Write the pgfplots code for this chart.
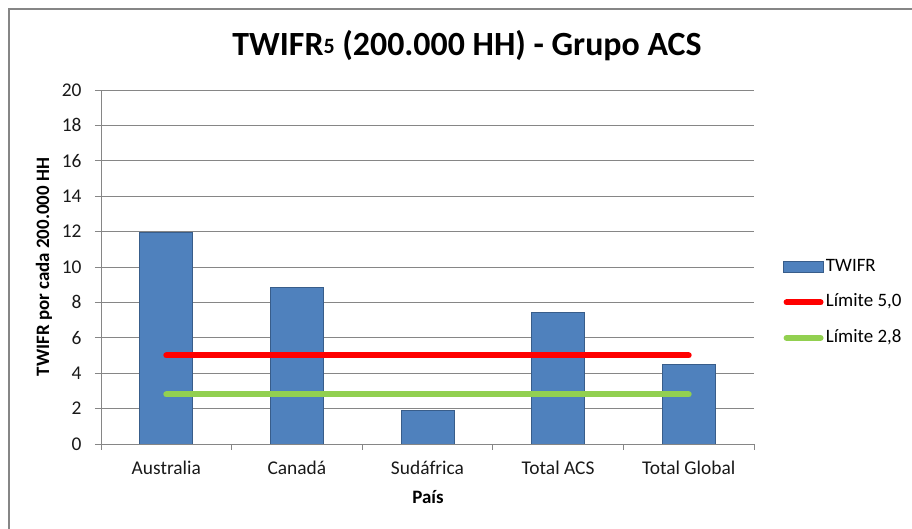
\documentclass[border=0pt]{standalone}
\usepackage{pgfplots}
\pgfplotsset{compat=1.18}
\usepackage{fontspec}
\setmainfont{Carlito}
\definecolor{barblue}{HTML}{4F81BD}
\definecolor{baredge}{HTML}{385D8A}
\definecolor{gridgray}{HTML}{868686}
\definecolor{limgreen}{HTML}{92D050}
\definecolor{limred}{HTML}{FF0000}
\pgfplotsset{
  barlegend/.style={legend image code/.code={\draw[##1] (0bp,-5.5bp) rectangle (40bp,5.5bp);}},
  linelegend/.style={legend image code/.code={\draw[##1] (3bp,0bp) -- (37bp,0bp);}},
}
\begin{document}
\begin{tikzpicture}
\begin{axis}[
  scale only axis, width=653bp, height=354bp,
  xmin=-0.5, xmax=4.5, ymin=0, ymax=20,
  ytick={0,2,...,20},
  xtick={-0.5,0.5,...,4.5},
  xticklabels={},
  extra x ticks={0,1,2,3,4},
  extra x tick labels={Australia, Canadá, Sudáfrica, Total ACS, Total Global},
  extra x tick style={major tick length=0pt, grid=none,
    tick label style={yshift=-13bp}},
  axis x line*=bottom, axis y line*=left,
  x axis line style={-}, y axis line style={-},
  axis line style={gridgray, line width=0.9bp},
  tick align=outside, major tick length=6bp,
  tick style={gridgray, line width=0.9bp},
  ymajorgrids=true,
  grid style={gridgray, line width=0.9bp},
  /pgf/number format/assume math mode=true,
  ticklabel style={font=\fontsize{19.5}{22}\selectfont, text=black!90},
  yticklabel style={xshift=-10bp},
  legend style={at={(1.0444,0.400)}, anchor=west, draw=none, fill=none,
    inner sep=0pt, row sep=18.5bp, font=\fontsize{19}{22}\selectfont,
    nodes={inner xsep=2bp, inner ysep=0bp, text height=13bp, text depth=4bp}},
  legend cell align=left,
]
\addplot[ybar, bar width=53bp, fill=barblue, draw=baredge, line width=0.75bp, barlegend]
  coordinates {(0,11.95) (1,8.85) (2,1.9) (3,7.45) (4,4.5)};
\addlegendentry{TWIFR}
\addplot[limred, line width=6bp, line cap=round, linelegend]
  coordinates {(0,5.0) (4,5.0)};
\addlegendentry{Límite 5,0}
\addplot[limgreen, line width=6bp, line cap=round, linelegend]
  coordinates {(0,2.8) (4,2.8)};
\addlegendentry{Límite 2,8}
\coordinate (O) at (rel axis cs:0,0);
\end{axis}
\begin{scope}[shift={(O)}, x=1bp, y=1bp]
\draw[gridgray, line width=1.2bp] (9-101,0-85) -- (9-101,520-85) -- (912-101,520-85);
\node[anchor=base, font=\bfseries\fontsize{34}{40}\selectfont] at (467-101,473-85)
  {TWIFR\raisebox{2.5bp}{\fontsize{22}{22}\selectfont 5} (200.000 HH) - Grupo ACS};
\node[rotate=90, font=\bfseries\fontsize{19}{22}\selectfont] at (44-101,262-85) {TWIFR por cada 200.000 HH};
\node[font=\bfseries\fontsize{19}{22}\selectfont] at (428-101,32-85) {País};
\pgfresetboundingbox
\useasboundingbox (-101,-85) rectangle (811,444);
\end{scope}
\end{tikzpicture}
\end{document}
